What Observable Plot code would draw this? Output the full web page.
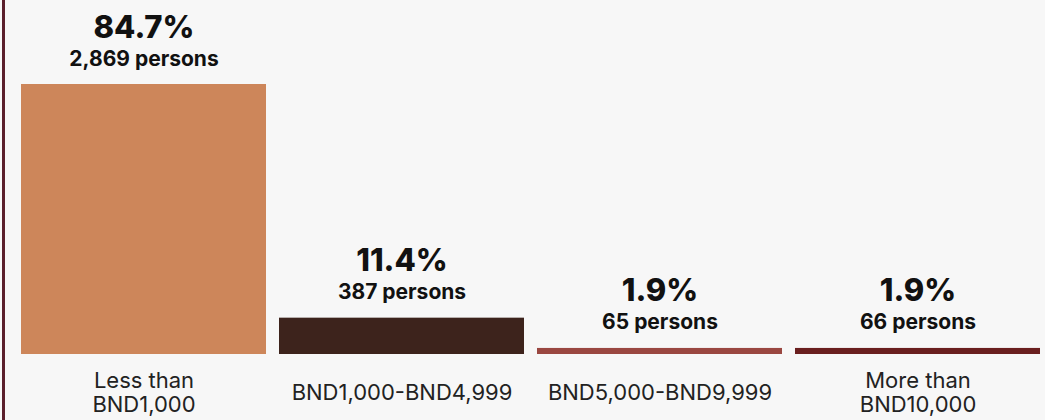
<!DOCTYPE html>
<html>
<head>
<meta charset="utf-8">
<script src="https://cdn.jsdelivr.net/npm/d3@7"></script>
<script src="https://cdn.jsdelivr.net/npm/@observablehq/plot@0.6"></script>
<style>
  html, body { margin: 0; padding: 0; background: #f7f7f7; }
  #chart svg { display: block; }
</style>
</head>
<body>
<div id="chart"></div>
<script>
const categories = ["Less than\nBND1,000", "BND1,000-BND4,999", "BND5,000-BND9,999", "More than\nBND10,000"];
const percents = [84.7, 11.4, 1.9, 1.9];
const persons = [2869, 387, 65, 66];
const colors = ["#cd865a", "#3d231c", "#9a4741", "#6a1f1f"];

const data = categories.map((c, i) => ({
  category: c,
  pct: percents[i],
  persons: persons[i],
  color: colors[i]
}));

const fmt = d3.format(",");

const chart = Plot.plot({
  width: 1045,
  height: 420,
  marginLeft: 21,
  marginRight: 4,
  marginTop: 84,
  marginBottom: 66,
  style: {
    fontFamily: "Inter, 'Open Sans', sans-serif",
    color: "#1a1a1a",
    background: "linear-gradient(to right, #f7f7f7 2px, #5b1f2b 2px, #5b1f2b 5px, #f7f7f7 5px)"
  },
  x: { domain: categories, paddingInner: 0.05, paddingOuter: 0 },
  y: { domain: [0, d3.max(percents)], axis: null },
  marks: [
    Plot.barY(data, { x: "category", y: "pct", fill: "color" }),
    Plot.text(data, {
      x: "category", y: "pct", text: d => `${d.pct}%`,
      fontSize: 31, fontWeight: 800, fill: "#111",
      lineAnchor: "bottom", dy: -47
    }),
    Plot.text(data, {
      x: "category", y: "pct", text: d => `${fmt(d.persons)} persons`,
      fontSize: 21, fontWeight: 700, fill: "#111",
      lineAnchor: "bottom", dy: -19, letterSpacing: "0.4px"
    }),
    Plot.axisX({
      tickSize: 0, tickPadding: 0, fontSize: 22, lineHeight: 1.1,
      lineAnchor: "middle", dy: 38, fill: "#222", label: null,
      letterSpacing: "1px"
    })
  ]
});

document.getElementById("chart").appendChild(chart);
</script>
</body>
</html>
